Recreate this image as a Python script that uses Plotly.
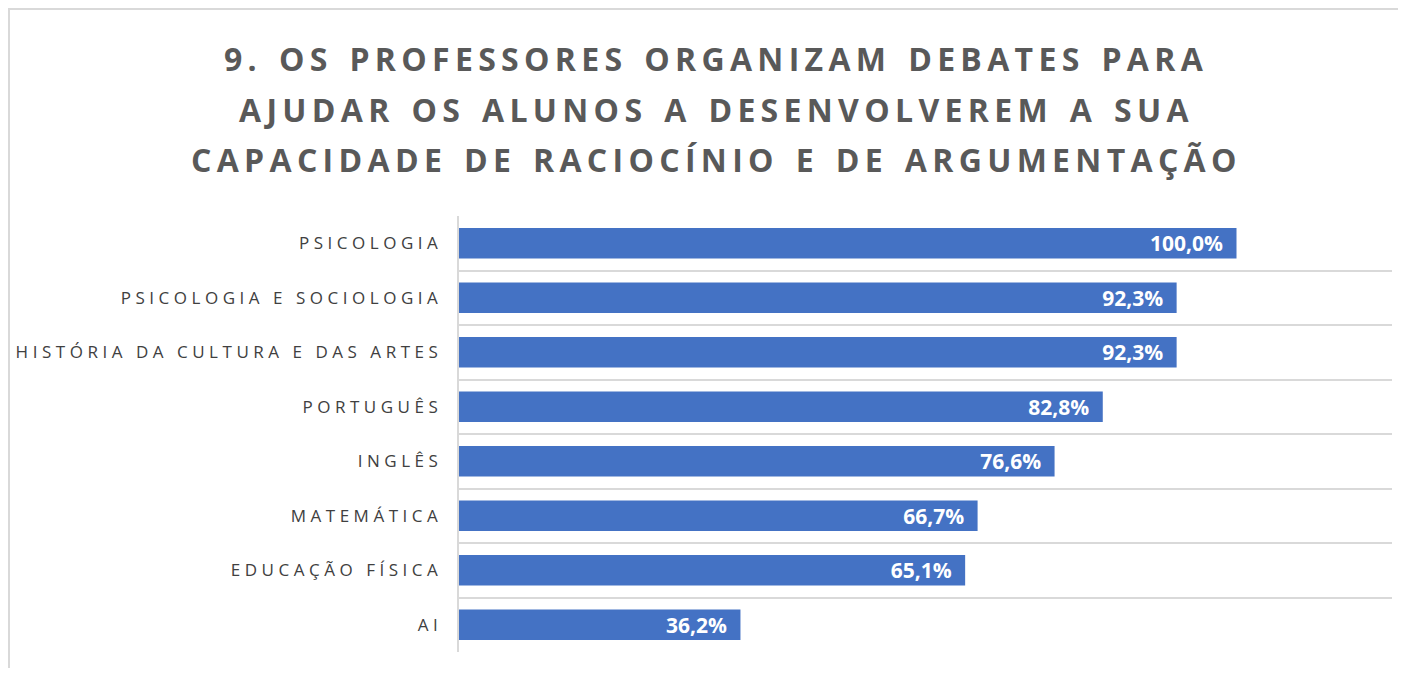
import plotly.graph_objects as go

categories = [
    "PSICOLOGIA",
    "PSICOLOGIA E SOCIOLOGIA",
    "HISTÓRIA DA CULTURA E DAS ARTES",
    "PORTUGUÊS",
    "INGLÊS",
    "MATEMÁTICA",
    "EDUCAÇÃO FÍSICA",
    "AI",
]
values = [1.000, 0.923, 0.923, 0.828, 0.766, 0.667, 0.651, 0.362]

title_lines = [
    "9. OS PROFESSORES ORGANIZAM DEBATES PARA",
    "AJUDAR OS ALUNOS A DESENVOLVEREM A SUA",
    "CAPACIDADE DE RACIOCÍNIO E DE ARGUMENTAÇÃO",
]
title_y = [1.3612, 1.2454, 1.1307]


def spaced(s, sep, word_sep=" "):
    return sep.join(list(s)).replace(sep + " " + sep, sep + word_sep + sep)


labels = [spaced(c, "\u2009\u200a") for c in categories]

fig = go.Figure(
    go.Bar(
        x=values,
        y=labels,
        orientation="h",
        marker=dict(color="#4472C4", line=dict(width=0)),
        width=0.56,
        texttemplate="%{x:.1%}\u2002",
        textposition="inside",
        insidetextanchor="end",
        constraintext="none",
        textfont=dict(family="Open Sans", size=21, color="white", weight="bold"),
        cliponaxis=False,
    )
)

annotations = [
    dict(
        text=spaced(t, "\u2009", " \u200a"),
        xref="paper",
        yref="paper",
        x=0.2733,
        y=yy,
        xanchor="center",
        yanchor="middle",
        showarrow=False,
        font=dict(family="Open Sans", size=32, color="#595959", weight="bold"),
    )
    for t, yy in zip(title_lines, title_y)
]

fig.update_layout(
    width=1390,
    height=660,
    paper_bgcolor="white",
    plot_bgcolor="white",
    separators=",.",
    margin=dict(l=451, r=6, t=208, b=16),
    showlegend=False,
    annotations=annotations,
    xaxis=dict(
        range=[0, 1.2],
        showgrid=False,
        zeroline=False,
        showticklabels=False,
        showline=False,
        fixedrange=True,
    ),
    yaxis=dict(
        type="category",
        autorange="reversed",
        tickson="boundaries",
        showgrid=True,
        gridcolor="#d9d9d9",
        gridwidth=1.5,
        showline=True,
        linecolor="#d9d9d9",
        linewidth=1.5,
        ticks="",
        ticklabelstandoff=16,
        automargin=False,
        tickfont=dict(family="Open Sans", size=17, color="#404040"),
    ),
    shapes=[
        dict(
            type="rect",
            xref="paper",
            yref="paper",
            x0=-0.4823,
            x1=1.05,
            y0=-0.2,
            y1=1.4748,
            line=dict(color="#d9d9d9", width=2),
            fillcolor="rgba(0,0,0,0)",
            layer="below",
        )
    ],
)

fig.write_html("out.html")
